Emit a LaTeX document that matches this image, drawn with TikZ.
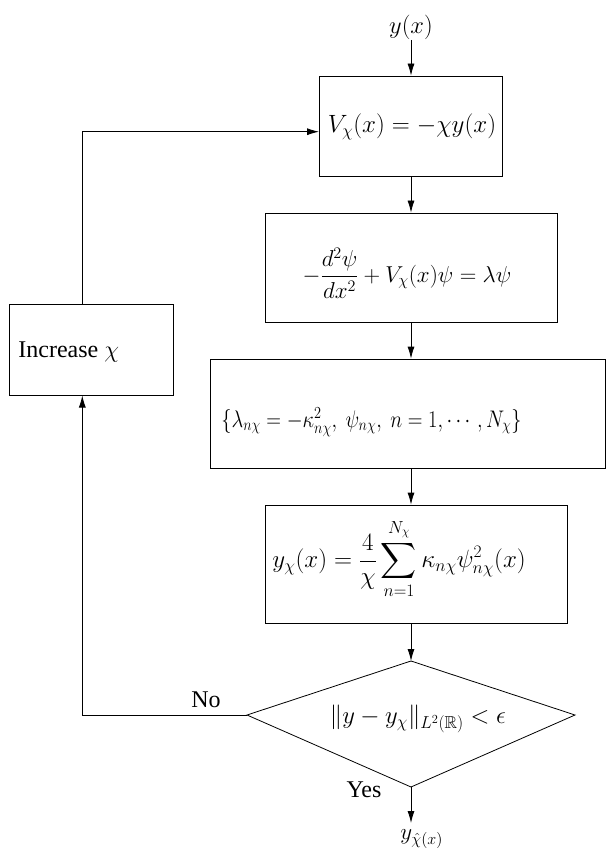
\RequirePackage{fix-cm}
\documentclass[tikz,border=0pt]{standalone}
\usepackage{amsmath,amssymb}
\usepackage{graphicx}
\usepackage{fontspec}
\setmainfont{Liberation Serif}
\usetikzlibrary{arrows.meta}
\newcommand{\fsz}[1]{\fontsize{#1}{#1}\selectfont}
\begin{document}
\begin{tikzpicture}[x=1pt,y=-1pt,line width=0.8pt,
  >={Latex[length=12pt,width=7pt]},
  box/.style={draw,line width=0.8pt,inner sep=0pt},
  lbl/.style={inner sep=0pt}]
\useasboundingbox (0,0) rectangle (606,850);
% boxes
\node[box,minimum width=183pt,minimum height=100pt] (b1) at (410.5,126) {};
\node[box,minimum width=292pt,minimum height=109pt] (b2) at (411,267.5) {};
\node[box,minimum width=395pt,minimum height=109pt] (b3) at (407.5,413.5) {};
\node[box,minimum width=302pt,minimum height=118pt] (b4) at (416,564) {};
\node[box,minimum width=164.5pt,minimum height=91.5pt] (inc) at (91.25,349.75) {};
% diamond
\coordinate (dn) at (411,661);
\coordinate (dw) at (247,715);
\coordinate (de) at (575,715);
\coordinate (ds) at (411,787);
\draw (dn) -- (de) -- (ds) -- (dw) -- cycle;
% texts
\node[lbl,font=\fsz{25}] (t1) at (412,127) {$V_\chi(x)=-\chi y(x)$};
\node[lbl,font=\fsz{23}] (t2) at (407,273) {$\displaystyle -\frac{d^2\psi}{dx^2}+V_\chi(x)\psi=\lambda\psi$};
\node[lbl,font=\fsz{24},anchor=west] (t3) at (221,422) {\scalebox{0.85}[1]{$\{\lambda_{n\chi}=-\kappa^2_{n\chi},\ \psi_{n\chi},\ n=1,\cdots,N_\chi\}$}};
\node[lbl,font=\fsz{25},anchor=west] (t4) at (272,559) {$\displaystyle y_\chi(x)=\frac{4}{\chi}\sum_{n=1}^{N_\chi}\kappa_{n\chi}\psi^2_{n\chi}(x)$};
\node[lbl,font=\fsz{24.7}] (t5) at (418,719) {$\|y-y_\chi\|_{L^2(\mathbb{R})}<\epsilon$};
\node[lbl,font=\fsz{24},anchor=west] (t6) at (18,352) {Increase $\chi$};
\node[lbl,font=\fsz{24.5}] (yx) at (411,27) {$y(x)$};
\node[lbl,font=\fsz{24}] (yes) at (364,790) {Yes};
\node[lbl,font=\fsz{24}] (no) at (206,700) {No};
\node[lbl,font=\fsz{23},anchor=west] (out) at (400,839) {$y_{\hat\chi(x)}$};
% connector coordinates
\coordinate (yxs) at (411,40);
\coordinate (outtip) at (411,823);
\coordinate (incb) at (82.3,395.5);
\coordinate (inct) at (82.3,304);
\coordinate (b1in) at (319,131.7);
% connectors
\draw[->] (yxs) -- (yxs |- b1.north);
\draw[->] (b2.north |- b1.south) -- (b2.north);
\draw[->] (b2.south) -- (b2.south |- b3.north);
\draw[->] (b2.south |- b3.south) -- (b2.south |- b4.north);
\draw[->] (dn |- b4.south) -- (dn);
\draw[->] (ds) -- (outtip);
\draw[->] (dw) -| (incb);
\draw[->] (inct) |- (b1in);
\end{tikzpicture}
\end{document}
